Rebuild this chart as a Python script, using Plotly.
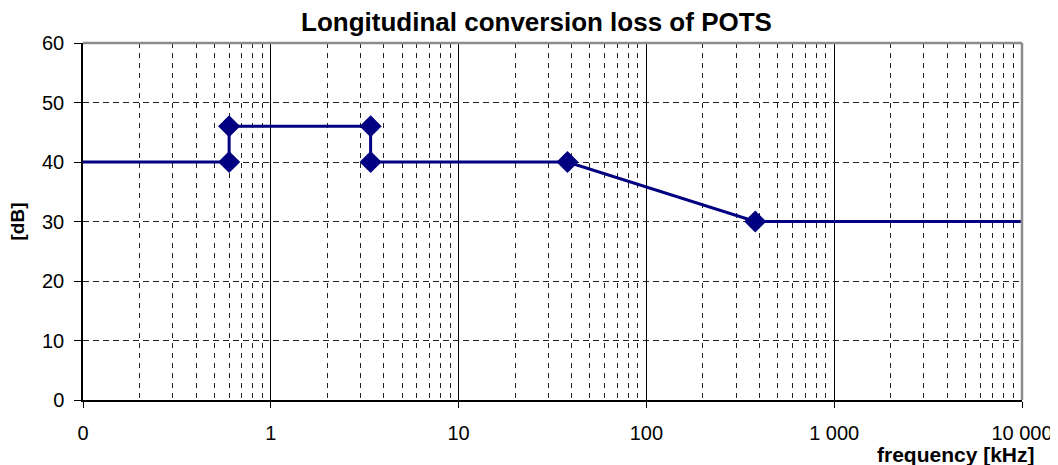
import plotly.graph_objects as go

# frequency in kHz, longitudinal conversion loss in dB
freq_khz = [0.1, 0.6, 0.6, 3.4, 3.4, 38, 380, 10000]
lcl_db = [40, 40, 46, 46, 40, 40, 30, 30]

x_tickvals = [0.1, 1, 10, 100, 1000, 10000]
x_ticktext = ["0", "1", "10", "100", "1 000", "10 000"]
y_tickvals = [0, 10, 20, 30, 40, 50, 60]

FONT = "Arial, Liberation Sans, sans-serif"
NAVY = "#000080"

# markers only on the break points, not on the two open ends
marker_sizes = [0] + [17] * (len(freq_khz) - 2) + [0]

fig = go.Figure()

fig.add_trace(go.Scatter(
    x=freq_khz, y=lcl_db,
    mode="lines+markers",
    line=dict(color=NAVY, width=3),
    marker=dict(symbol="diamond", size=marker_sizes, color=NAVY, opacity=1,
                line=dict(width=0)),
    hoverinfo="x+y",
    showlegend=False,
))

# the page body has an 8px margin, so the figure is a bit smaller than the window
fig.update_layout(
    width=1050, height=457,
    plot_bgcolor="white",
    paper_bgcolor="white",
    margin=dict(l=75, r=36, t=35, b=65),
    font=dict(family=FONT, size=20, color="black"),
    showlegend=False,
    xaxis=dict(
        type="log",
        range=[-1, 4],
        tickvals=x_tickvals,
        ticktext=x_ticktext,
        ticks="outside", ticklen=6, tickcolor="black", tickwidth=1,
        ticklabelstandoff=8,
        showgrid=True, gridcolor="black", gridwidth=1,
        minor=dict(dtick="D1", showgrid=True, gridcolor="#222222",
                   griddash="5px,5px", gridwidth=1, ticks=""),
        showline=True, linecolor="black", linewidth=2,
        zeroline=False, automargin=False,
    ),
    yaxis=dict(
        range=[0, 60],
        tickvals=y_tickvals,
        ticks="outside", ticklen=7, tickcolor="black", tickwidth=1,
        ticklabelstandoff=6,
        showgrid=True, gridcolor="#222222", griddash="6px,4px", gridwidth=1,
        showline=True, linecolor="black", linewidth=1.5,
        zeroline=False, automargin=False,
    ),
)

# grey frame on top and right of the plot area
fig.add_shape(type="line", xref="paper", yref="paper", x0=0, x1=1, y0=1, y1=1,
              line=dict(color="#8c8c8c", width=2.5), layer="above")
fig.add_shape(type="line", xref="paper", yref="paper", x0=1, x1=1, y0=0, y1=1,
              line=dict(color="#8c8c8c", width=2.5), layer="above")

fig.add_annotation(text="<b>Longitudinal conversion loss of POTS</b>",
                   xref="paper", yref="paper", x=0.483, y=1, yshift=21,
                   xanchor="center", yanchor="middle", height=28, valign="middle",
                   showarrow=False, font=dict(size=26))
fig.add_annotation(text="<b>[dB]</b>", xref="paper", yref="paper",
                   x=0, xshift=-66, y=0.5, textangle=-90,
                   xanchor="center", yanchor="middle",
                   showarrow=False, font=dict(size=19))
fig.add_annotation(text="<b>frequency [kHz]</b>", xref="paper", yref="paper",
                   x=1, xshift=15, xanchor="right", y=0, yshift=-54,
                   yanchor="middle",
                   showarrow=False, font=dict(size=21))

fig.write_html("out.html")
